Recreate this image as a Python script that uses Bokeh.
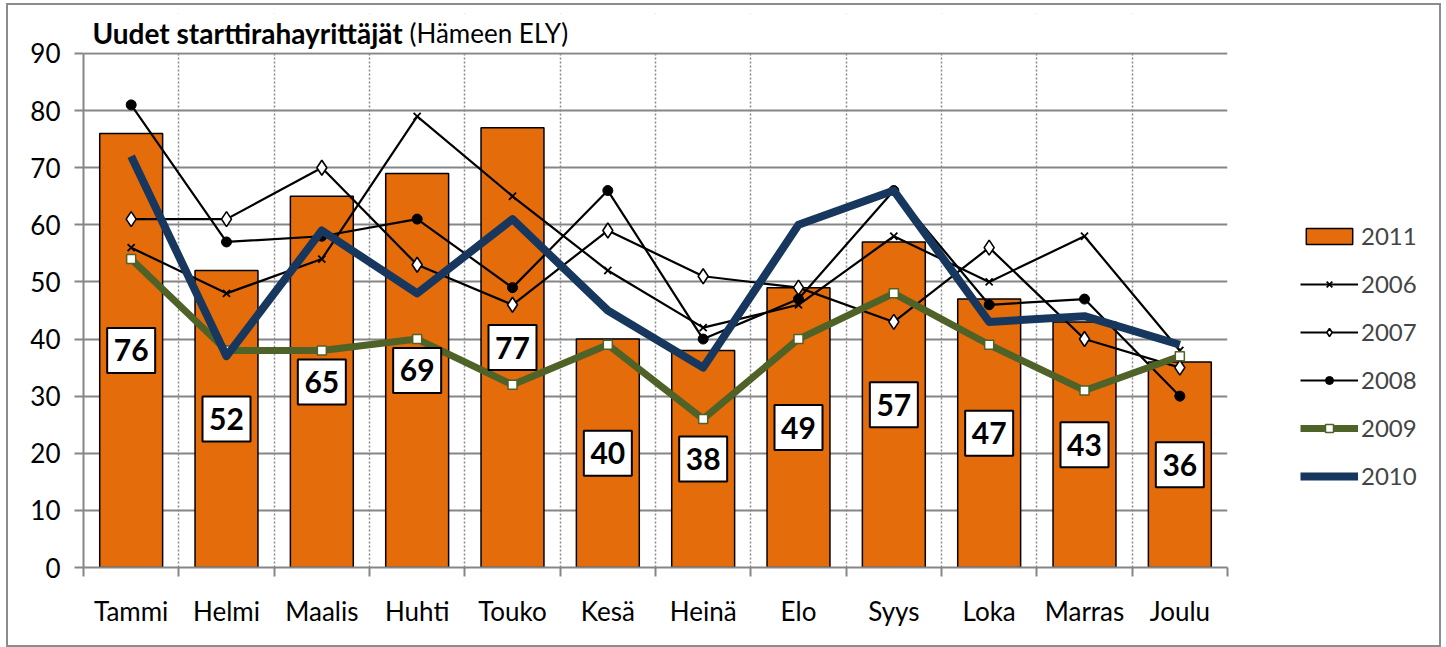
from bokeh.plotting import figure
from bokeh.layouts import row
from bokeh.models import (ColumnDataSource, FactorRange, Range1d, LinearAxis,
                          FixedTicker, Legend, LegendItem, Label, BoxAnnotation)
from bokeh.core.properties import value
from bokeh.embed import file_html
from bokeh.resources import INLINE

# ---- data ----
months = ["Tammi", "Helmi", "Maalis", "Huhti", "Touko", "Kesä",
          "Heinä", "Elo", "Syys", "Loka", "Marras", "Joulu"]
y2011 = [76, 52, 65, 69, 77, 40, 38, 49, 57, 47, 43, 36]
y2006 = [56, 48, 54, 79, 65, 52, 42, 46, 58, 50, 58, 38]
y2007 = [61, 61, 70, 53, 46, 59, 51, 49, 43, 56, 40, 35]
y2008 = [81, 57, 58, 61, 49, 66, 40, 47, 66, 46, 47, 30]
y2009 = [54, 38, 38, 40, 32, 39, 26, 40, 48, 39, 31, 37]
y2010 = [72, 37, 59, 48, 61, 45, 35, 60, 66, 43, 44, 39]
series_names = ["2011", "2006", "2007", "2008", "2009", "2010"]
y_ticks = list(range(0, 91, 10))
y_max = 90
title_bold = "Uudet starttirahayrittäjät"
title_rest = "(Hämeen ELY)"

FONT = "Lato"
GRID = "#868686"
ORANGE = "#E46C0A"
GREEN = "#4F6228"
NAVY = "#17375E"

src = ColumnDataSource(dict(
    month=months, y2011=y2011, y2006=y2006, y2007=y2007, y2008=y2008,
    y2009=y2009, y2010=y2010,
    mid=[v / 2 for v in y2011], lab=[str(v) for v in y2011],
))

# ---------------- main chart ----------------
p = figure(x_range=FactorRange(*months), y_range=Range1d(0, 97),
           width=1229, height=640, output_backend="svg", toolbar_location=None,
           x_axis_location=None, min_border_left=75, min_border_right=10,
           min_border_top=8, min_border_bottom=78, outline_line_color=None,
           background_fill_color="white", border_fill_color="white")

# y axis
p.yaxis.ticker = FixedTicker(ticks=y_ticks)
p.yaxis.bounds = (0, y_max)
p.yaxis.axis_line_color = GRID
p.yaxis.axis_line_width = 2
p.yaxis.major_tick_line_color = GRID
p.yaxis.major_tick_line_width = 2
p.yaxis.major_tick_out = 9
p.yaxis.major_tick_in = 0
p.yaxis.minor_tick_line_color = None
p.yaxis.major_label_text_font = FONT
p.yaxis.major_label_text_font_size = "26px"
p.yaxis.major_label_text_color = "black"
p.yaxis.major_label_standoff = 14

# grids (vertical dotted lines at category boundaries)
boundaries = list(range(len(months) + 1))
p.ygrid.ticker = FixedTicker(ticks=y_ticks)
p.ygrid.grid_line_color = GRID
p.ygrid.grid_line_width = 2
p.xgrid.ticker = FixedTicker(ticks=boundaries)
p.xgrid.grid_line_color = "#8a8a8a"
p.xgrid.grid_line_width = 1.5
p.xgrid.grid_line_dash = "2 2"

# x axis: labels at category centres, tick marks at boundaries
centers = [i + 0.5 for i in range(len(months))]
xa = LinearAxis(ticker=FixedTicker(ticks=centers, minor_ticks=boundaries),
                major_label_overrides={c: m for c, m in zip(centers, months)})
xa.axis_line_color = GRID
xa.axis_line_width = 2
xa.major_tick_line_color = None
xa.major_tick_out = 0
xa.major_tick_in = 0
xa.minor_tick_line_color = GRID
xa.minor_tick_line_width = 2
xa.minor_tick_out = 9
xa.minor_tick_in = 0
xa.major_label_text_font = FONT
xa.major_label_text_font_size = "26px"
xa.major_label_text_color = "black"
xa.major_label_standoff = 18
p.add_layout(xa, "below")

# styles shared by chart and legend
bar_kw = dict(fill_color=ORANGE, line_color="black", line_width=1.5)
thin_kw = dict(line_color="black", line_width=2.2)
m06_kw = dict(marker="x", size=10, line_color="black", line_width=1.8)
m07_kw = dict(marker="diamond", size=15, fill_color="white", line_color="black", line_width=1.6)
m08_kw = dict(marker="circle", size=10, fill_color="black", line_color="black")
l09_kw = dict(line_color=GREEN, line_width=7, line_join="round")
m09_kw = dict(marker="square", size=9, fill_color="white", line_color=GREEN, line_width=1.5)
l10_kw = dict(line_color=NAVY, line_width=8, line_join="round")

# bars
p.vbar(x="month", top="y2011", width=0.66, source=src, **bar_kw)
# lines
p.line(x="month", y="y2006", source=src, **thin_kw)
p.scatter(x="month", y="y2006", source=src, **m06_kw)
p.line(x="month", y="y2007", source=src, **thin_kw)
p.scatter(x="month", y="y2007", source=src, **m07_kw)
p.line(x="month", y="y2008", source=src, **thin_kw)
p.scatter(x="month", y="y2008", source=src, **m08_kw)
p.line(x="month", y="y2009", source=src, **l09_kw)
p.scatter(x="month", y="y2009", source=src, **m09_kw)
p.line(x="month", y="y2010", source=src, **l10_kw)

# value boxes
p.rect(x="month", y="mid", width=48, height=45, width_units="screen",
       height_units="screen", fill_color="white", line_color="black",
       line_width=2, source=src)
p.text(x="month", y="mid", text="lab", text_font=value(FONT),
       text_font_style="bold", text_font_size="30px", text_align="center",
       text_baseline="middle", text_color="black", source=src)

# hide the part of the dotted grid above the plotting area (title strip)
p.add_layout(BoxAnnotation(bottom=y_max + 0.2, fill_color="white", fill_alpha=1,
                           line_color=None))

# title
p.add_layout(Label(x=0.094, y=93.5, text=title_bold, text_font=FONT,
                   text_font_style="bold", text_font_size="28px",
                   text_baseline="middle", text_color="black"))
p.add_layout(Label(x=3.42, y=93.5, text=title_rest, text_font=FONT,
                   text_font_size="26px", text_baseline="middle",
                   text_color="black"))

# ---------------- legend panel ----------------
# proxy renderers (a single NaN point, never visible) carry the legend styles
lp = figure(width=202, height=640, output_backend="svg", toolbar_location=None,
            x_range=Range1d(0, 1), y_range=Range1d(0, 1),
            x_axis_location=None, y_axis_location=None, min_border=0,
            outline_line_color=None, background_fill_color="white",
            border_fill_color="white")
lp.grid.visible = False
nan = float("nan")
e = dict(x=[nan], y=[nan])
r11 = lp.vbar(x=[nan], top=[nan], width=0.5, **bar_kw)
r06 = [lp.line(**e, **thin_kw), lp.scatter(**e, **m06_kw)]
r07 = [lp.line(**e, **thin_kw), lp.scatter(**e, **m07_kw)]
r08 = [lp.line(**e, **thin_kw), lp.scatter(**e, **m08_kw)]
r09 = [lp.line(**e, **l09_kw), lp.scatter(**e, **m09_kw)]
r10 = [lp.line(**e, **l10_kw)]
legend = Legend(items=[
    LegendItem(label=series_names[0], renderers=[r11]),
    LegendItem(label=series_names[1], renderers=r06),
    LegendItem(label=series_names[2], renderers=r07),
    LegendItem(label=series_names[3], renderers=r08),
    LegendItem(label=series_names[4], renderers=r09),
    LegendItem(label=series_names[5], renderers=r10),
], location=(63, 77), glyph_width=58, glyph_height=20, label_height=29,
    spacing=19, padding=0, margin=0, border_line_color=None,
    background_fill_alpha=0, label_text_font=FONT, label_text_font_size="24px",
    label_standoff=3)
lp.add_layout(legend)

layout = row(p, lp)
layout.styles = {"border": "2px solid #8c8c8c", "margin": "3px 0 0 6px"}

with open("out.html", "w") as f:
    f.write(file_html(layout, INLINE))
